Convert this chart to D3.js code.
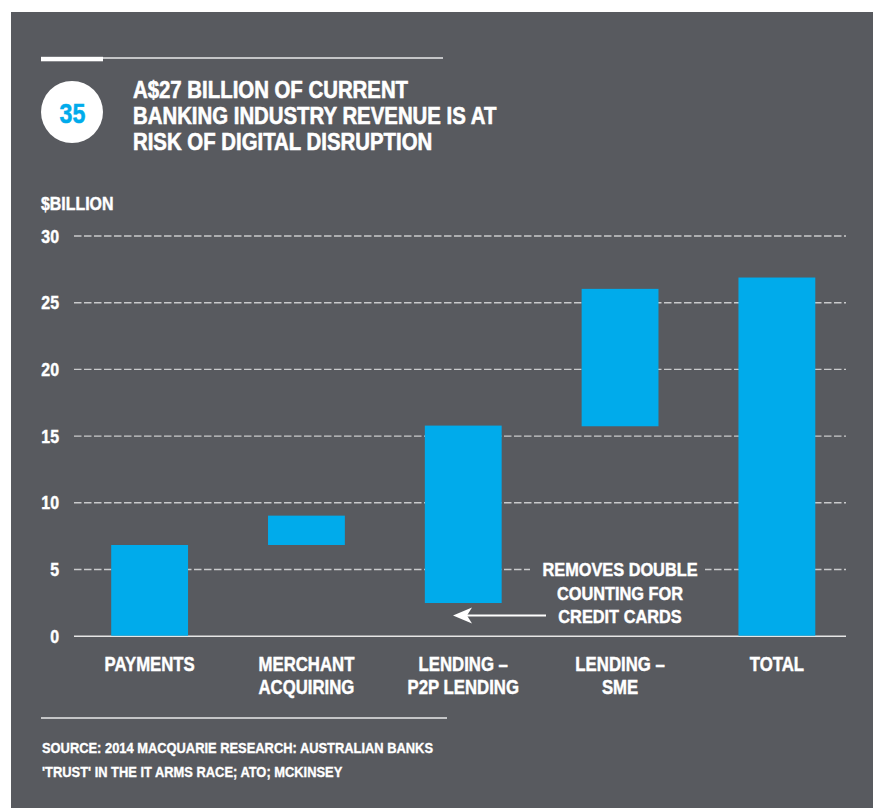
<!DOCTYPE html>
<html>
<head>
<meta charset="utf-8">
<script src="https://cdn.jsdelivr.net/npm/d3@7"></script>
<style>
html,body{margin:0;padding:0;background:#ffffff;}
svg{display:block;}
</style>
</head>
<body>
<svg id="chart" width="873" height="808"></svg>
<script>
// ---- data ----
const categories = ["PAYMENTS", "MERCHANT ACQUIRING", "LENDING – P2P LENDING", "LENDING – SME", "TOTAL"];
const categoryLines = [["PAYMENTS"], ["MERCHANT", "ACQUIRING"], ["LENDING –", "P2P LENDING"], ["LENDING –", "SME"], ["TOTAL"]];
const barLow = [0, 6.8, 2.45, 15.7, 0];
const barHigh = [6.8, 9.0, 15.75, 26.0, 26.85];
const yTicks = [0, 5, 10, 15, 20, 25, 30];
const titleLines = ["A$27 BILLION OF CURRENT", "BANKING INDUSTRY REVENUE IS AT", "RISK OF DIGITAL DISRUPTION"];
const chartNumber = "35";
const yAxisTitle = "$BILLION";
const annotationLines = ["REMOVES DOUBLE", "COUNTING FOR", "CREDIT CARDS"];
const sourceLines = ["SOURCE: 2014 MACQUARIE RESEARCH: AUSTRALIAN BANKS", "'TRUST' IN THE IT ARMS RACE; ATO; MCKINSEY"];

// ---- style ----
const F = "'Liberation Sans',Arial,sans-serif";
const NARROW = 0.86; // horizontal condensing of the bold face
const BG = "#585a5f";
const BLUE = "#00abeb";
const WHITE = "#ffffff";
const GRID = "#c9cacc";

const svg = d3.select("#chart");

function addText(parent, x, y, str, size, anchor, fill, sw) {
  const col = fill || WHITE;
  return parent.append("text")
    .attr("transform", `translate(${x},${y}) scale(${NARROW},1)`)
    .attr("text-anchor", anchor || "start")
    .attr("font-family", F).attr("font-weight", "bold")
    .attr("font-size", size).attr("fill", col)
    .attr("stroke", col).attr("stroke-width", sw == null ? 0.45 : sw)
    .text(str);
}

// panel
svg.append("rect").attr("x", 11).attr("y", 12).attr("width", 862).attr("height", 796).attr("fill", BG);

// top rule
svg.append("rect").attr("x", 103).attr("y", 57).attr("width", 340).attr("height", 2).attr("fill", "#c4c5c7");
svg.append("rect").attr("x", 41).attr("y", 56.8).attr("width", 62).attr("height", 4.5).attr("fill", WHITE);

// number circle
svg.append("circle").attr("cx", 72).attr("cy", 112).attr("r", 31).attr("fill", WHITE);
addText(svg, 72.5, 122.5, chartNumber, 27, "middle", BLUE, 0.5);

// title
const gTitle = svg.append("g");
titleLines.forEach((t, i) => addText(gTitle, 133, 98 + i * 26, t, 23.7, "start", WHITE, 0.6));

// y-axis title
addText(svg, 41, 210, yAxisTitle, 18.5);

// scales
const y = d3.scaleLinear().domain([0, 30]).range([635.7, 235.5]);
const x = d3.scaleBand().domain(categories).range([72, 854.5]).paddingInner(0.51).paddingOuter(0.25);

// grid + axis
const gridLeft = 74, gridRight = 846;
const axis = d3.axisLeft(y).tickValues(yTicks).tickSizeInner(-(gridRight - gridLeft)).tickSizeOuter(0).tickPadding(15);
const gAxis = svg.append("g").attr("transform", `translate(${gridLeft},0)`).call(axis);
gAxis.select(".domain").remove();
gAxis.selectAll(".tick line")
  .attr("stroke-dasharray", d => d === 0 ? null : "7.5,2.5")
  .attr("stroke", d => d === 0 ? "#e6e6e6" : GRID)
  .attr("stroke-width", d => d === 0 ? 1.6 : 1.4);
gAxis.selectAll(".tick text")
  .attr("x", 0).attr("dy", null)
  .attr("transform", `translate(-15,6.6) scale(${NARROW},1)`)
  .attr("font-family", F).attr("font-weight", "bold").attr("font-size", 18.5)
  .attr("fill", WHITE).attr("stroke", WHITE).attr("stroke-width", 0.45);

// annotation backdrop (interrupts gridline)
svg.append("rect").attr("x", 530).attr("y", 558).attr("width", 175).attr("height", 70).attr("fill", BG);

// bars
svg.append("g").selectAll("rect").data(categories).join("rect")
  .attr("x", d => x(d))
  .attr("width", x.bandwidth())
  .attr("y", (d, i) => y(barHigh[i]))
  .attr("height", (d, i) => y(barLow[i]) - y(barHigh[i]))
  .attr("fill", BLUE);

// category labels
const gCat = svg.append("g");
categories.forEach((c, i) => {
  categoryLines[i].forEach((line, j) => {
    addText(gCat, x(c) + x.bandwidth() / 2, 671 + j * 22.5, line, 19.5, "middle");
  });
});

// annotation
const gAnn = svg.append("g");
annotationLines.forEach((t, i) => addText(gAnn, 620, 576 + i * 23.7, t, 19, "middle"));

// arrow
svg.append("line").attr("x1", 466).attr("x2", 546).attr("y1", 615.5).attr("y2", 615.5)
  .attr("stroke", WHITE).attr("stroke-width", 2);
svg.append("path").attr("d", "M453,615.5 L472,607.5 L467,615.5 L472,623.5 Z").attr("fill", WHITE);

// bottom rule
svg.append("rect").attr("x", 41).attr("y", 717).attr("width", 406).attr("height", 2).attr("fill", "#c4c5c7");

// source
const gSrc = svg.append("g");
sourceLines.forEach((t, i) => addText(gSrc, 42, 752.5 + i * 24.5, t, 15, "start", WHITE, 0.35));
</script>
</body>
</html>
